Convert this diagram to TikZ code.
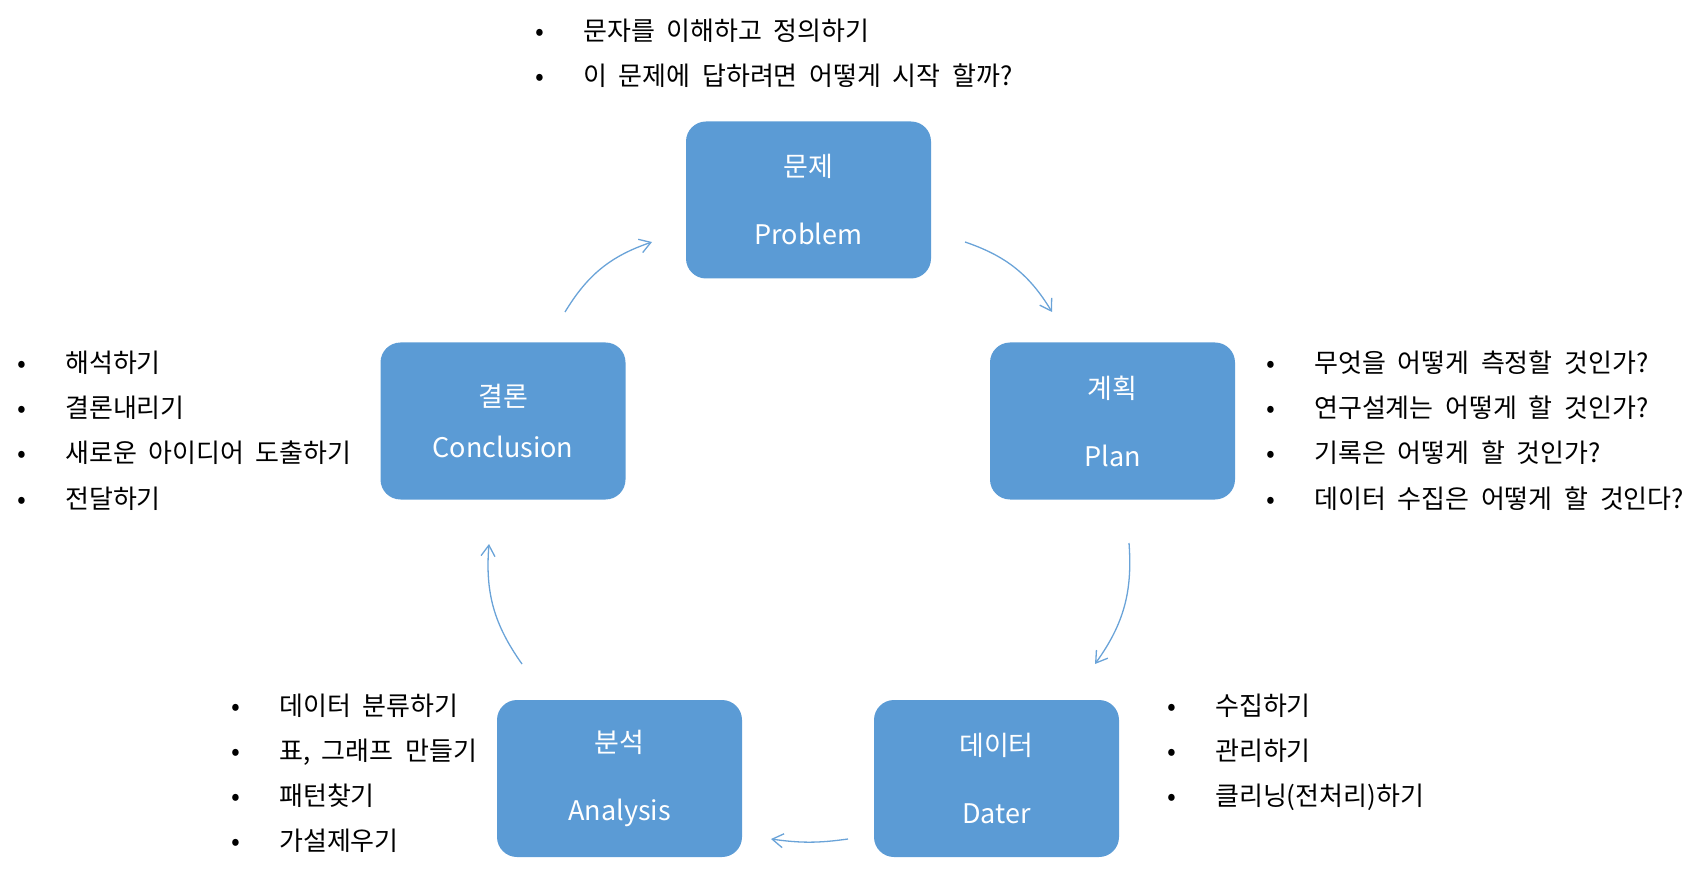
\documentclass[tikz,border=0pt]{standalone}
\usepackage{fontspec}
\setmainfont[WordSpace=2]{Noto Sans CJK KR}
\usetikzlibrary{arrows.meta}
\definecolor{boxblue}{HTML}{5B9BD5}
\definecolor{arrowblue}{HTML}{6AA3D8}
\newcommand{\bul}{\makebox[48pt][l]{•}}

\begin{document}
\begin{tikzpicture}[x=1pt,y=1pt,>={Straight Barb[length=11pt,width=14pt]},
    box/.style={rectangle,rounded corners=20pt,fill=boxblue,minimum width=245pt,minimum height=157pt,text=white,align=center,font=\fontsize{27}{68}\selectfont},
    list/.style={anchor=base west,align=left,inner sep=0pt,font=\fontsize{26}{45}\selectfont},
    flow/.style={->,draw=arrowblue,line width=1.3pt}]
    \useasboundingbox (0,0) rectangle (1704,871);
    % the five steps
    \node[box] (problem) at (808.5,671) {문제\\Problem};
    \node[box] (plan) at (1112.5,450) {계획\\Plan};
    \node[box] (data) at (996.5,92.5) {데이터\\Dater};
    \node[box] (analysis) at (619.5,92.5) {분석\\Analysis};
    \node[box,font=\fontsize{27}{51}\selectfont] (conclusion) at (503,450) {결론\\Conclusion};
    % questions beside each step (anchored at the last line)
    \node[list] (problem list) at (535,785) {\bul 문자를 이해하고 정의하기\\\bul 이 문제에 답하려면 어떻게 시작 할까?};
    \node[list] (plan list) at (1266,363) {\bul 무엇을 어떻게 측정할 것인가?\\\bul 연구설계는 어떻게 할 것인가?\\\bul 기록은 어떻게 할 것인가?\\\bul 데이터 수집은 어떻게 할 것인다?};
    \node[list] (data list) at (1167,66) {\bul 수집하기\\\bul 관리하기\\\bul 클리닝(전처리)하기};
    \node[list] (analysis list) at (231,21) {\bul 데이터 분류하기\\\bul 표, 그래프 만들기\\\bul 패턴찾기\\\bul 가설제우기};
    \node[list] (conclusion list) at (17,363) {\bul 해석하기\\\bul 결론내리기\\\bul 새로운 아이디어 도출하기\\\bul 전달하기};
    % arrow ends
    \coordinate (conclusion out) at (565,559);
    \coordinate (problem in) at (652,629);
    \coordinate (problem out) at (965,629);
    \coordinate (plan in) at (1052,559);
    \coordinate (plan out) at (1129,328);
    \coordinate (data in) at (1095,207);
    \coordinate (data out) at (848,32);
    \coordinate (analysis in) at (771,32);
    \coordinate (analysis out) at (522,207);
    \coordinate (conclusion in) at (489,327);
    \draw[flow] (conclusion out) to[bend left=20] (problem in);
    \draw[flow] (problem out) to[bend left=20] (plan in);
    \draw[flow] (plan out) to[bend left=20] (data in);
    \draw[flow] (data out) to[bend left=8] (analysis in);
    \draw[flow] (analysis out) to[bend left=20] (conclusion in);
\end{tikzpicture}
\end{document}
